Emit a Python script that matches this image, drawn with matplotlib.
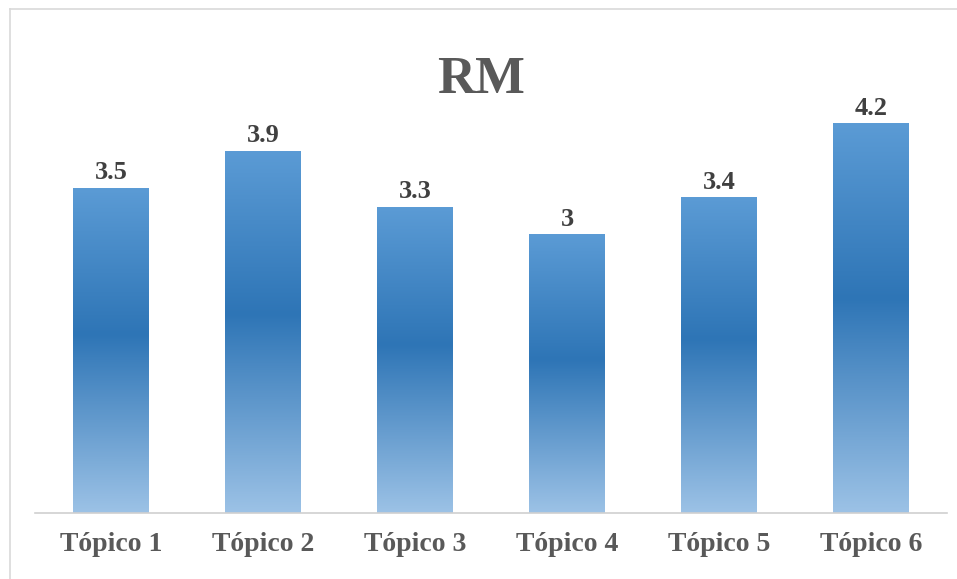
import matplotlib.pyplot as plt
import numpy as np
from matplotlib.colors import LinearSegmentedColormap
from matplotlib.lines import Line2D

# Datos del gráfico
topicos = ["Tópico 1", "Tópico 2", "Tópico 3", "Tópico 4", "Tópico 5", "Tópico 6"]
valores = [3.5, 3.9, 3.3, 3, 3.4, 4.2]
etiquetas = ["3.5", "3.9", "3.3", "3", "3.4", "4.2"]

plt.rcParams["font.family"] = ["Liberation Serif", "DejaVu Serif"]

fig = plt.figure(figsize=(9.57, 5.79), dpi=100)
ax = fig.add_axes([35 / 957, 1 - 513 / 579, 912 / 957, 513 / 579 - 0.02])

# Degradado vertical: claro arriba, oscuro al centro, claro abajo
degradado = LinearSegmentedColormap.from_list(
    "azul", [(0.0, "#9cc2e6"), (0.55, "#2e75b6"), (1.0, "#5b9bd5")]
)
grad = np.linspace(0, 1, 256).reshape(-1, 1)

x = np.arange(len(topicos))
barras = ax.bar(x, valores, width=0.5, color="none", edgecolor="none")
for b in barras:
    x0, y0, w, h = b.get_x(), b.get_y(), b.get_width(), b.get_height()
    ax.imshow(grad, cmap=degradado, origin="lower", aspect="auto",
              extent=(x0, x0 + w, y0, y0 + h), zorder=2)

ax.set_xlim(-0.5, len(topicos) - 0.5)
ax.set_ylim(0, 5.41)

for xi, v, t in zip(x, valores, etiquetas):
    ax.annotate(t, (xi, v), xytext=(0, 3), textcoords="offset points",
                ha="center", va="bottom", fontsize=19, fontweight="bold",
                color="#404040")

ax.set_xticks(x)
ax.set_xticklabels(topicos, fontsize=20, fontweight="bold", color="#595959")
ax.tick_params(axis="x", length=0, pad=14)
ax.set_yticks([])
for lado in ["top", "right", "left"]:
    ax.spines[lado].set_visible(False)
ax.spines["bottom"].set_color("#d0d0d0")
ax.spines["bottom"].set_linewidth(1.2)

fig.text(481 / 957, 1 - 80 / 579, "RM", ha="center", va="center",
         fontsize=38, fontweight="bold", color="#595959")

# Marco del área del gráfico
fig.add_artist(Line2D([10 / 957, 1], [1 - 9 / 579] * 2, color="#d9d9d9", lw=1.2))
fig.add_artist(Line2D([10 / 957] * 2, [0, 1 - 9 / 579], color="#d9d9d9", lw=1.2))

fig.savefig("out.png", dpi=100)
